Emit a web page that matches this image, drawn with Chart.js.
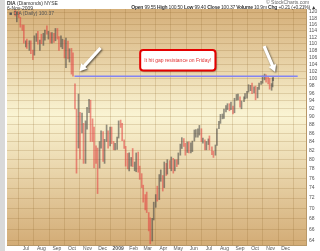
<!DOCTYPE html>
<html>
<head>
<meta charset="utf-8">
<script src="https://cdn.jsdelivr.net/npm/chart.js@4.4.1/dist/chart.umd.min.js"></script>
<style>
  html, body { margin: 0; padding: 0; background: #fff; }
  #wrap { position: relative; width: 320px; height: 251px; overflow: hidden;
          font-family: "Liberation Sans", Arial, sans-serif; color: #333; }
  #edge { position: absolute; left: 0; top: 0; width: 5px; height: 251px; background: #d9d9d9; }
  canvas { position: absolute; left: 0; top: 0; }
  .t { position: absolute; font-size: 5px; line-height: 5px; white-space: nowrap; }
</style>
</head>
<body>
<div id="wrap">
  <div id="edge"></div>
  <canvas id="chart" width="320" height="251"></canvas>
  <div class="t" style="left:7px;top:1px"><b>DIA</b> (Diamonds) NYSE</div>
  <div class="t" style="left:7px;top:6px">6-Nov-2009</div>
  <div class="t" style="left:266px;top:0px;color:#666">© StockCharts.com</div>
  <div class="t" style="right:4px;top:5px;letter-spacing:-0.2px"><b>Open</b> 99.55 <b>High</b> 100.50 <b>Low</b> 99.40 <b>Close</b> 100.37 <b>Volume</b> 10.9m <b>Chg</b> +0.21 (+0.21%) ▲</div>
  <div class="t" style="left:9px;top:11px;color:#555">■ DIA (Daily) 100.37</div>
</div>
<script>
// DIA daily bars, sampled about twice a week (high / low / close)
const dates = [
  '2008-06-10','2008-06-13','2008-06-17','2008-06-20','2008-06-24','2008-06-27','2008-07-01','2008-07-03',
  '2008-07-08','2008-07-11','2008-07-15','2008-07-18','2008-07-22','2008-07-25','2008-07-29','2008-08-01',
  '2008-08-05','2008-08-08','2008-08-12','2008-08-15','2008-08-19','2008-08-22','2008-08-26','2008-08-29',
  '2008-09-02','2008-09-05','2008-09-09','2008-09-12','2008-09-16','2008-09-19','2008-09-23','2008-09-26',
  '2008-09-30','2008-10-03','2008-10-07','2008-10-10','2008-10-14','2008-10-17','2008-10-21','2008-10-24',
  '2008-10-28','2008-10-31','2008-11-04','2008-11-07','2008-11-11','2008-11-14','2008-11-18','2008-11-21',
  '2008-11-25','2008-11-28','2008-12-02','2008-12-05','2008-12-09','2008-12-12','2008-12-16','2008-12-19',
  '2008-12-23','2008-12-26','2008-12-30','2009-01-02','2009-01-06','2009-01-09','2009-01-13','2009-01-16',
  '2009-01-20','2009-01-23','2009-01-27','2009-01-30','2009-02-03','2009-02-06','2009-02-10','2009-02-13',
  '2009-02-17','2009-02-20','2009-02-24','2009-02-27','2009-03-03','2009-03-06','2009-03-10','2009-03-13',
  '2009-03-17','2009-03-20','2009-03-24','2009-03-27','2009-03-31','2009-04-03','2009-04-07','2009-04-09',
  '2009-04-14','2009-04-17','2009-04-21','2009-04-24','2009-04-28','2009-05-01','2009-05-05','2009-05-08',
  '2009-05-12','2009-05-15','2009-05-19','2009-05-22','2009-05-26','2009-05-29','2009-06-02','2009-06-05',
  '2009-06-09','2009-06-12','2009-06-16','2009-06-19','2009-06-23','2009-06-26','2009-06-30','2009-07-02',
  '2009-07-07','2009-07-10','2009-07-14','2009-07-17','2009-07-21','2009-07-24','2009-07-28','2009-07-31',
  '2009-08-04','2009-08-07','2009-08-11','2009-08-14','2009-08-18','2009-08-21','2009-08-25','2009-08-28',
  '2009-09-01','2009-09-04','2009-09-09','2009-09-11','2009-09-15','2009-09-18','2009-09-22','2009-09-25',
  '2009-09-29','2009-10-02','2009-10-06','2009-10-09','2009-10-13','2009-10-16','2009-10-20','2009-10-23',
  '2009-10-27','2009-10-30','2009-11-03','2009-11-05','2009-11-06'
];
const highs = [
  120.5,120.0,120.0,118.3,115.8,115.8,110.9,111.4, 110.9,110.9,108.1,112.4,113.1,113.8,111.1,112.9,
  113.2,114.2,115.5,113.8,113.4,113.4,113.2,114.7, 114.7,112.2,112.4,111.4,111.1,111.7,110.8,108.5,
  108.6,107.3,98.5,91.9,95.8,91.1,90.9,88.4, 89.0,92.4,94.4,94.2,89.5,87.5,83.1,82.6,
  84.1,86.6,86.4,84.6,88.0,86.6,87.5,87.5, 84.1,83.7,85.1,89.0,89.2,88.4,84.5,83.0,
  81.4,81.5,80.5,82.5,79.5,81.5,81.7,78.6, 77.0,74.6,72.7,73.2,69.2,68.2,68.1,71.2,
  72.7,74.4,76.8,77.8,76.6,79.5,79.2,80.0, 79.8,80.6,80.3,80.0,80.0,81.5,83.5,85.0,
  84.8,83.7,84.0,84.0,83.8,84.2,86.8,86.9, 87.1,87.9,87.1,84.9,84.5,84.1,84.7,85.4,
  82.9,81.9,83.3,87.1,88.9,90.6,90.7,91.9, 92.8,93.3,93.3,93.7,92.7,94.7,95.7,95.8,
  95.1,94.0,95.1,95.9,96.5,98.3,98.1,98.7, 97.7,97.9,97.6,98.7,99.2,100.7,101.2,101.0,
  100.5,100.0,98.6,100.1,100.5
];
const lows = [
  118.7,116.8,118.2,115.1,114.1,110.2,109.0,108.6, 108.0,107.0,105.3,106.6,110.7,109.9,108.0,110.0,
  109.5,111.1,112.9,111.4,110.2,110.2,110.4,110.9, 111.4,108.0,109.0,108.5,105.8,103.0,105.5,104.6,
  101.2,100.6,92.0,77.1,82.6,80.2,86.1,79.2, 79.2,87.0,91.0,84.1,84.1,78.2,79.2,72.9,
  78.2,82.6,79.6,79.2,84.1,82.6,83.1,83.6, 82.2,82.2,82.3,84.9,87.4,84.3,82.5,78.6,
  78.0,77.6,78.6,78.5,77.6,77.4,77.3,75.8, 74.1,71.2,69.7,69.2,65.8,63.5,64.0,67.8,
  70.2,71.4,71.7,75.4,73.4,74.1,76.6,76.9, 78.1,77.6,77.1,77.6,78.5,79.0,81.0,82.5,
  83.0,81.0,81.6,81.5,81.5,81.8,84.2,85.1, 85.1,85.6,84.1,83.7,82.2,82.2,83.4,82.2,
  81.1,80.5,81.0,83.2,87.1,88.4,89.5,89.6, 91.2,91.8,91.5,91.8,90.7,91.0,94.2,94.3,
  92.4,92.0,93.8,94.5,94.7,96.3,96.7,95.9, 96.1,94.3,94.8,97.0,98.4,98.7,99.6,99.0,
  98.5,97.1,96.8,97.7,99.4
];
const closes = [
  119.6,119.7,118.3,115.2,114.9,110.4,110.7,109.8, 110.8,108.0,106.7,111.9,112.9,110.6,110.9,110.2,
  113.0,114.2,113.3,113.4,110.4,113.1,111.0,112.3, 112.1,109.2,109.3,111.1,107.6,110.8,105.6,108.4,
  105.8,100.7,92.3,82.7,91.0,86.6,88.4,81.9, 88.7,91.2,94.1,87.5,85.0,83.1,82.4,78.7,
  82.9,86.3,82.3,84.5,85.0,84.4,87.3,83.9, 82.3,83.3,84.8,88.7,88.5,84.4,83.0,81.3,
  78.1,79.3,80.3,78.6,79.3,81.3,77.5,77.1, 74.2,72.3,72.2,69.3,66.0,65.1,68.0,70.9,
  72.6,71.7,75.5,76.6,74.9,79.2,77.0,79.9, 78.2,80.3,78.7,79.8,79.2,81.1,83.1,84.7,
  83.7,81.7,83.7,81.8,83.7,84.0,86.5,86.8, 86.8,87.1,84.2,84.5,82.4,83.5,83.6,82.4,
  81.2,81.1,83.2,87.0,88.7,90.5,90.5,91.3, 92.7,93.2,91.9,92.7,91.7,94.6,94.9,95.0,
  92.6,93.9,95.0,95.6,96.3,97.7,97.8,96.2, 96.9,94.9,97.3,98.7,98.7,100.0,100.4,99.7,
  98.7,97.1,97.7,100.1,100.37
];

const monthStarts = ['2008-07-01','2008-08-01','2008-09-01','2008-10-01','2008-11-01','2008-12-01',
  '2009-01-01','2009-02-01','2009-03-01','2009-04-01','2009-05-01','2009-06-01',
  '2009-07-01','2009-08-01','2009-09-01','2009-10-01','2009-11-01','2009-12-01'];
const monthLabels = ['Jul','Aug','Sep','Oct','Nov','Dec','2009','Feb','Mar','Apr','May','Jun',
  'Jul','Aug','Sep','Oct','Nov','Dec'];
const priceTicks = [64,66,68,70,72,74,76,78,80,82,84,86,88,90,92,94,96,98,100,102,104,106,108,110,112,114,116,118,120];

const gapLevel = 100.6;
const gapFrom = '2008-10-06';
const note = 'It hit gap resistance on Friday!';

function toDay(s) {
  return (Date.UTC(+s.slice(0, 4), +s.slice(5, 7) - 1, +s.slice(8, 10)) - Date.UTC(2008, 6, 1)) / 864e5;
}
const xMin = toDay('2008-06-10'), xMax = toDay('2009-12-25');

const bars = dates.map((d, i) => ({ x: toDay(d), y: [lows[i], highs[i]] }));
const barColors = closes.map((c, i) => (i > 0 && c >= closes[i - 1]) ? 'rgba(60,60,60,0.55)' : 'rgba(225,60,60,0.55)');

const backdrop = {
  id: 'backdrop',
  beforeDraw(chart) {
    const { ctx, chartArea: a } = chart;
    const g = ctx.createLinearGradient(0, a.top, 0, a.bottom);
    g.addColorStop(0, '#d5af79');
    g.addColorStop(0.45, '#faf4d3');
    g.addColorStop(1, '#d3ac76');
    ctx.save();
    ctx.fillStyle = g;
    ctx.fillRect(a.left, a.top, a.right - a.left, a.bottom - a.top);
    ctx.restore();
  }
};

function arrow(ctx, x1, y1, x2, y2) {
  const ang = Math.atan2(y2 - y1, x2 - x1);
  const len = Math.hypot(x2 - x1, y2 - y1);
  ctx.save();
  ctx.translate(x1, y1);
  ctx.rotate(ang);
  ctx.beginPath();
  ctx.moveTo(0, -1.6);
  ctx.lineTo(len - 7, -1.6);
  ctx.lineTo(len - 7, -4);
  ctx.lineTo(len, 0);
  ctx.lineTo(len - 7, 4);
  ctx.lineTo(len - 7, 1.6);
  ctx.lineTo(0, 1.6);
  ctx.closePath();
  ctx.shadowColor = 'rgba(0,0,0,0.6)';
  ctx.shadowBlur = 2;
  ctx.shadowOffsetX = 1;
  ctx.shadowOffsetY = 1;
  ctx.fillStyle = '#fff';
  ctx.fill();
  ctx.restore();
}

const notes = {
  id: 'notes',
  afterDraw(chart) {
    const { ctx, scales: { x, y } } = chart;
    arrow(ctx, x.getPixelForValue(toDay('2008-11-27')), y.getPixelForValue(108.7),
               x.getPixelForValue(toDay('2008-10-16')), y.getPixelForValue(102.0));
    arrow(ctx, x.getPixelForValue(toDay('2009-10-19')), y.getPixelForValue(109.3),
               x.getPixelForValue(toDay('2009-11-10')), y.getPixelForValue(101.8));

    const bx1 = x.getPixelForValue(toDay('2009-02-14')), bx2 = x.getPixelForValue(toDay('2009-07-14'));
    const by1 = y.getPixelForValue(108.1), by2 = y.getPixelForValue(102.2);
    ctx.save();
    ctx.shadowColor = 'rgba(0,0,0,0.45)';
    ctx.shadowBlur = 2;
    ctx.shadowOffsetX = 1;
    ctx.shadowOffsetY = 1;
    ctx.beginPath();
    ctx.roundRect(bx1, by1, bx2 - bx1, by2 - by1, 3);
    ctx.fillStyle = '#fff';
    ctx.fill();
    ctx.shadowColor = 'transparent';
    ctx.lineWidth = 2;
    ctx.strokeStyle = '#e40000';
    ctx.stroke();
    ctx.fillStyle = '#e03030';
    ctx.font = '5px "Liberation Sans", Arial, sans-serif';
    ctx.textAlign = 'center';
    ctx.textBaseline = 'middle';
    ctx.fillText(note, (bx1 + bx2) / 2, (by1 + by2) / 2);
    ctx.restore();
  }
};

const gridColor = 'rgba(140,100,40,0.2)';

new Chart(document.getElementById('chart'), {
  type: 'bar',
  data: {
    datasets: [
      {
        type: 'line',
        data: [{ x: toDay(gapFrom), y: gapLevel }, { x: xMax, y: gapLevel }],
        borderColor: '#8484f2',
        borderWidth: 1.5,
        pointRadius: 0,
        order: 0,
      },
      {
        data: bars,
        backgroundColor: barColors,
        barThickness: 1,
        grouped: false,
        order: 1,
      },
    ],
  },
  options: {
    responsive: false,
    animation: false,
    events: [],
    layout: { padding: { left: 7, top: 9, right: 0, bottom: 0 } },
    plugins: { legend: { display: false }, tooltip: { enabled: false } },
    scales: {
      x: {
        type: 'linear',
        min: xMin,
        max: xMax,
        afterBuildTicks: s => { s.ticks = monthStarts.map(m => ({ value: toDay(m) })); },
        afterFit: s => { s.height = 6; },
        grid: { color: gridColor, drawTicks: false },
        border: { color: '#b89868' },
        ticks: {
          autoSkip: false,
          maxRotation: 0,
          padding: 1,
          color: '#555',
          font: c => ({ size: 5, weight: c.index === 6 ? 'bold' : 'normal' }),
          callback: (v, i) => monthLabels[i],
        },
      },
      y: {
        type: 'logarithmic',
        position: 'right',
        min: 63.3,
        max: 121,
        afterBuildTicks: s => { s.ticks = priceTicks.map(v => ({ value: v })); },
        afterFit: s => { s.width = 14; },
        grid: { color: gridColor, drawTicks: false },
        border: { color: '#b89868' },
        ticks: {
          autoSkip: false,
          padding: 3,
          color: '#555',
          font: { size: 5 },
          callback: v => String(v),
        },
      },
    },
  },
  plugins: [backdrop, notes],
});
</script>
</body>
</html>
